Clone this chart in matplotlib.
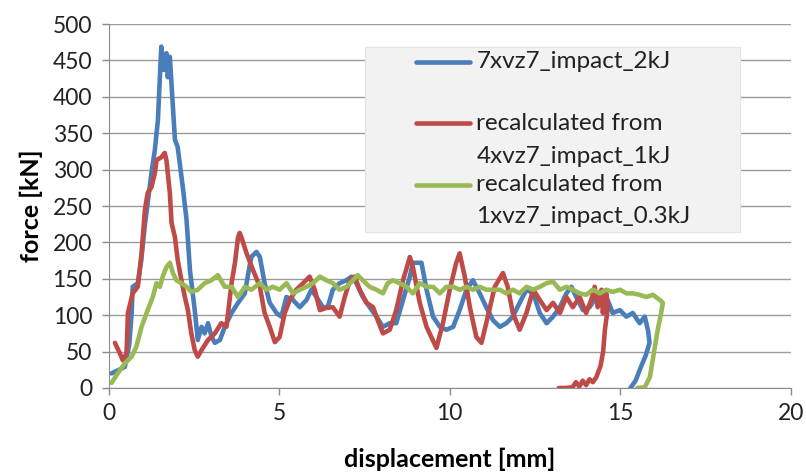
import numpy as np
import matplotlib.pyplot as plt
from matplotlib.patches import Rectangle

plt.rcParams['font.family'] = ['Lato', 'DejaVu Sans']

# 7xvz7_impact_2kJ
blue_x = [0.08, 0.3, 0.47, 0.6, 0.67, 0.7, 0.85, 0.95, 1.05, 1.25, 1.35, 1.44, 1.54, 1.58, 1.62,
          1.69, 1.73, 1.79, 1.88, 1.94, 2.02, 2.17, 2.28, 2.38, 2.52, 2.61, 2.72, 2.81, 2.91, 3.01,
          3.11, 3.26, 3.40, 3.6, 3.79, 3.99, 4.1, 4.18, 4.33, 4.43, 4.57, 4.72, 4.92, 5.06, 5.21,
          5.40, 5.6, 5.8, 5.94, 6.09, 6.28, 6.42, 6.57, 6.77, 6.97, 7.12, 7.26, 7.45, 7.65, 7.85,
          8.04, 8.24, 8.43, 8.63, 8.83, 8.92, 9.17, 9.32, 9.51, 9.71, 9.90, 10.1, 10.29, 10.49,
          10.68, 10.88, 11.07, 11.27, 11.47, 11.66, 11.85, 12.05, 12.25, 12.45, 12.64, 12.84,
          13.03, 13.23, 13.42, 13.57, 13.71, 13.91, 14.1, 14.3, 14.5, 14.63, 14.78, 14.99, 15.18,
          15.37, 15.57, 15.72, 15.82, 15.86, 15.75, 15.6, 15.45, 15.3]
blue_y = [20, 25, 29, 60, 103, 139, 144, 175, 221, 295, 327, 368, 469, 450, 437,
          460, 427, 455, 386, 341, 331, 276, 231, 162, 107, 66, 84, 75, 89, 71,
          62, 66, 84, 103, 117, 130, 160, 180, 187, 180, 144, 117, 103, 98, 125,
          121, 111, 121, 135, 125, 111, 111, 135, 144, 148, 153, 144, 125, 111, 98,
          84, 89, 89, 121, 153, 172, 172, 135, 98, 84, 80, 84, 107, 135,
          148, 130, 111, 93, 84, 89, 98, 117, 135, 130, 103, 89,
          98, 111, 130, 139, 125, 107, 111, 125, 130, 121, 103, 107, 98,
          103, 89, 98, 78, 62, 45, 28, 10, 0]

# recalculated from 4xvz7_impact_1kJ
red_x = [0.18, 0.32, 0.41, 0.52, 0.56, 0.70, 0.85, 0.96, 1.06, 1.14, 1.25, 1.35, 1.40, 1.54, 1.64,
         1.69, 1.79, 1.84, 1.94, 2.02, 2.13, 2.23, 2.32, 2.42, 2.52, 2.61, 2.72, 2.91, 3.11, 3.30,
         3.45, 3.6, 3.70, 3.79, 3.84, 3.89, 4.04, 4.23, 4.43, 4.57, 4.72, 4.87, 5.01, 5.16, 5.31,
         5.50, 5.70, 5.89, 6.04, 6.19, 6.38, 6.57, 6.77, 6.92, 7.07, 7.21, 7.36, 7.56, 7.75, 7.89,
         8.04, 8.24, 8.43, 8.63, 8.83, 8.92, 9.12, 9.32, 9.61, 9.80, 10.0, 10.19, 10.29, 10.44,
         10.59, 10.78, 10.93, 11.07, 11.32, 11.56, 11.70, 11.85, 12.05, 12.25, 12.45, 12.64,
         12.84, 13.03, 13.23, 13.42, 13.61, 13.81, 14.0, 14.15, 14.25, 14.34, 14.45, 14.49,
         14.59, 14.64, 14.55, 14.5, 14.42, 14.3, 14.2, 14.1, 14.0, 13.9, 13.8, 13.7, 13.6,
         13.4, 13.2]
red_y = [62, 48, 38, 48, 103, 130, 139, 185, 245, 268, 276, 295, 313, 317, 323,
         313, 268, 227, 207, 176, 148, 125, 107, 75, 52, 43, 52, 66, 75, 89,
         84, 144, 172, 207, 213, 207, 185, 162, 139, 103, 84, 63, 70, 103, 121,
         135, 144, 153, 135, 107, 110, 111, 98, 125, 148, 153, 135, 117, 111, 93,
         75, 80, 107, 148, 180, 166, 117, 84, 55, 89, 135, 172, 185, 153,
         111, 70, 62, 89, 139, 158, 139, 103, 80, 103, 135, 121,
         107, 117, 103, 125, 111, 125, 103, 121, 139, 111, 135, 103,
         130, 111, 80, 50, 30, 15, 8, 12, 4, 10, 2, 8, 1,
         0, 0]

# recalculated from 1xvz7_impact_0.3kJ
green_x = [0.08, 0.26, 0.47, 0.67, 0.81, 0.96, 1.14, 1.29, 1.40, 1.50, 1.58, 1.69, 1.79, 1.88, 1.98,
           2.13, 2.28, 2.42, 2.61, 2.81, 3.01, 3.20, 3.40, 3.6, 3.79, 3.99, 4.18, 4.43, 4.62, 4.81,
           5.01, 5.21, 5.40, 5.6, 5.80, 5.99, 6.19, 6.38, 6.57, 6.77, 6.97, 7.16, 7.30, 7.45, 7.65,
           7.85, 8.04, 8.18, 8.33, 8.53, 8.73, 8.92, 9.12, 9.32, 9.51, 9.71, 9.90, 10.1, 10.29,
           10.49, 10.68, 10.88, 11.07, 11.27, 11.47, 11.66, 11.85, 12.05, 12.25, 12.45, 12.64,
           12.84, 13.03, 13.23, 13.42, 13.61, 13.81, 14.0, 14.2, 14.4, 14.59, 14.78, 14.99, 15.18,
           15.37, 15.57, 15.77, 15.96, 16.16, 16.25, 16.2, 16.1, 16.0, 15.87, 15.72, 15.5]
green_y = [7, 20, 34, 43, 57, 84, 107, 125, 144, 139, 153, 166, 172, 158, 148,
           144, 139, 132, 135, 144, 148, 155, 139, 139, 125, 139, 135, 144, 135, 139,
           135, 144, 130, 135, 139, 144, 153, 148, 144, 135, 139, 148, 155, 148, 139,
           135, 130, 144, 148, 144, 139, 130, 144, 139, 139, 130, 139, 139, 135,
           139, 135, 139, 135, 135, 135, 130, 135, 130, 139, 135, 139,
           144, 146, 135, 139, 135, 130, 128, 135, 130, 135, 132, 135, 130,
           130, 128, 125, 128, 121, 117, 103, 80, 52, 15, 1, 0]

labels = [["7xvz7_impact_2kJ"],
          ["recalculated from", "4xvz7_impact_1kJ"],
          ["recalculated from", "1xvz7_impact_0.3kJ"]]
colors = ["#4A7EBB", "#BE4B48", "#98B954"]

fig = plt.figure(figsize=(8.06, 4.72), dpi=100)
ax = fig.add_axes([0.135, 0.178, 0.846, 0.771])

for xs, ys, c in zip([blue_x, red_x, green_x], [blue_y, red_y, green_y], colors):
    ax.plot(xs, ys, color=c, lw=3.3, solid_joinstyle='round', solid_capstyle='round', zorder=3)

ax.set_xlim(0, 20)
ax.set_ylim(0, 500)
ax.set_xticks(np.arange(0, 21, 5))
ax.set_yticks(np.arange(0, 501, 50))
ax.yaxis.grid(True, color='#9a9a9a', lw=1.0)
ax.set_axisbelow(True)
for s in ['top', 'right']:
    ax.spines[s].set_visible(False)
for s in ['left', 'bottom']:
    ax.spines[s].set_color('#8c8c8c')
ax.tick_params(axis='both', colors='#8c8c8c', labelcolor='#222222', labelsize=16.5, length=5, width=1)
ax.tick_params(axis='y', pad=7)
ax.tick_params(axis='x', pad=6)
ax.set_xlabel("displacement [mm]", fontsize=18, fontweight='bold', labelpad=17)
ax.set_ylabel("force [kN]", fontsize=18, fontweight='bold', labelpad=7)

# legend box drawn Excel-style (handle on first line of each entry)
ax.add_patch(Rectangle((0.375, 0.429), 0.55, 0.508, transform=ax.transAxes,
                       facecolor='#f2f2f2', edgecolor='#e4e4e4', lw=0.8, zorder=5))
line_y = [[0.896], [0.727, 0.635], [0.558, 0.471]]
for lab, ly, c in zip(labels, line_y, colors):
    ax.plot([0.451, 0.530], [ly[0], ly[0]], transform=ax.transAxes, color=c, lw=3.3,
            solid_capstyle='round', zorder=6)
    for t, y in zip(lab, ly):
        ax.text(0.539, y, t, transform=ax.transAxes, fontsize=17.5, color='#222222',
                va='center', ha='left', zorder=6)

fig.savefig("out.png", dpi=100)
